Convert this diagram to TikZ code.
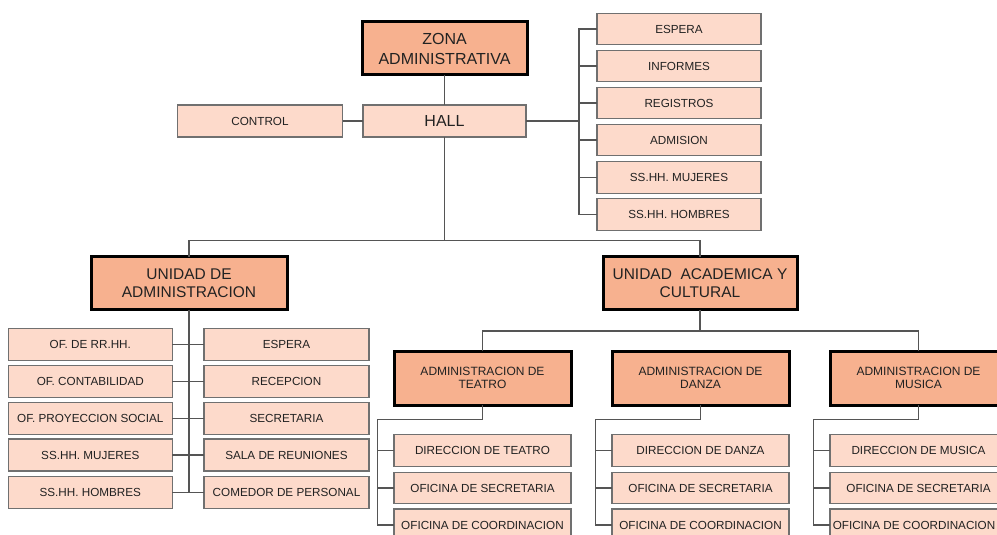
\documentclass[tikz,border=0pt]{standalone}
\usepackage{fontspec}
\setmainfont{Liberation Sans}
\definecolor{darkfill}{HTML}{F7B18F}
\definecolor{lightfill}{HTML}{FDDACB}
\definecolor{lightborder}{HTML}{707070}
\definecolor{connc}{HTML}{555555}
\definecolor{textc}{HTML}{222222}
\tikzset{
  mainbox/.style={draw=black, line width=3pt, fill=darkfill, inner sep=0pt, outer sep=0pt, align=center, text=textc},
  bigtext/.style={font=\fontsize{16}{20}\selectfont},
  unittext/.style={font=\fontsize{15.5}{18.5}\selectfont},
  subtext/.style={font=\fontsize{12}{13.5}\selectfont},
  leafbox/.style={draw=lightborder, line width=1.3pt, fill=lightfill, inner sep=0pt, outer sep=0pt, align=center, text=textc, font=\fontsize{11.7}{13}\selectfont},
  conn/.style={draw=connc, line width=1.3pt},
}
\begin{document}
\begin{tikzpicture}[x=1pt,y=-1pt]
\useasboundingbox (0,0) rectangle (997,535);
\clip (0,0) rectangle (997,535);
% top level
\node[mainbox, bigtext, minimum width=165pt, minimum height=53pt] (zona) at (444.5,48.5) {ZONA\\ADMINISTRATIVA};
\node[leafbox, font=\fontsize{16}{18}\selectfont, minimum width=163pt, minimum height=32pt] (hall) at (444.5,121) {HALL};
\node[leafbox, minimum width=165pt, minimum height=32pt] (control) at (260,121) {CONTROL};
% right column
\node[leafbox, minimum width=164pt, minimum height=31.5pt] (e1) at (679,29) {ESPERA};
\node[leafbox, minimum width=164pt, minimum height=31.5pt] (e2) at (679,66) {INFORMES};
\node[leafbox, minimum width=164pt, minimum height=31.5pt] (e3) at (679,103) {REGISTROS};
\node[leafbox, minimum width=164pt, minimum height=31.5pt] (e4) at (679,140) {ADMISION};
\node[leafbox, minimum width=164pt, minimum height=31.5pt] (e5) at (679,177.5) {SS.HH. MUJERES};
\node[leafbox, minimum width=164pt, minimum height=31.5pt] (e6) at (679,214.5) {SS.HH. HOMBRES};
\coordinate (rbus) at (578.5,121);
\coordinate (tb) at (444.5,240.5);
% units
\node[mainbox, unittext, minimum width=196pt, minimum height=53pt] (ua) at (189,283) {UNIDAD DE\\ADMINISTRACION};
\node[mainbox, unittext, minimum width=194pt, minimum height=53pt] (uc) at (700,283) {UNIDAD\ \ ACADEMICA Y\\CULTURAL};
% unidad de administracion children
\node[leafbox, minimum width=164pt, minimum height=32pt] (l1) at (90.3,344.7) {OF. DE RR.HH.};
\node[leafbox, minimum width=164pt, minimum height=32pt] (l2) at (90.3,381.5) {OF. CONTABILIDAD};
\node[leafbox, minimum width=164pt, minimum height=32pt] (l3) at (90.3,418.3) {OF. PROYECCION SOCIAL};
\node[leafbox, minimum width=164pt, minimum height=32pt] (l4) at (90.3,455) {SS.HH. MUJERES};
\node[leafbox, minimum width=164pt, minimum height=32pt] (l5) at (90.3,492.5) {SS.HH. HOMBRES};
\node[leafbox, minimum width=165pt, minimum height=32pt] (r1) at (286.5,344.7) {ESPERA};
\node[leafbox, minimum width=165pt, minimum height=32pt] (r2) at (286.5,381.5) {RECEPCION};
\node[leafbox, minimum width=165pt, minimum height=32pt] (r3) at (286.5,418.3) {SECRETARIA};
\node[leafbox, minimum width=165pt, minimum height=32pt] (r4) at (286.5,455) {SALA DE REUNIONES};
\node[leafbox, minimum width=165pt, minimum height=32pt] (r5) at (286.5,492.5) {COMEDOR DE PERSONAL};
% sub administrations
\coordinate (ab) at (700,331);
\node[mainbox, subtext, minimum width=177pt, minimum height=54pt] (at) at (482.5,378) {ADMINISTRACION DE\\TEATRO};
\node[mainbox, subtext, minimum width=177pt, minimum height=54pt] (ad) at (700.5,378) {ADMINISTRACION DE\\DANZA};
\node[mainbox, subtext, minimum width=177pt, minimum height=54pt] (am) at (918.5,378) {ADMINISTRACION DE\\MUSICA};
% teatro children
\node[leafbox, minimum width=177pt, minimum height=32pt] (t1) at (482.5,450.5) {DIRECCION DE TEATRO};
\node[leafbox, minimum width=177pt, minimum height=31pt] (t2) at (482.5,488) {OFICINA DE SECRETARIA};
\node[leafbox, minimum width=177pt, minimum height=32pt] (t3) at (482.5,525) {OFICINA DE COORDINACION};
% danza children
\node[leafbox, minimum width=177pt, minimum height=32pt] (d1) at (700.5,450.5) {DIRECCION DE DANZA};
\node[leafbox, minimum width=177pt, minimum height=31pt] (d2) at (700.5,488) {OFICINA DE SECRETARIA};
\node[leafbox, minimum width=177pt, minimum height=32pt] (d3) at (700.5,525) {OFICINA DE COORDINACION};
% musica children
\node[leafbox, minimum width=177pt, minimum height=32pt] (m1) at (918.5,450.5) {DIRECCION DE MUSICA};
\node[leafbox, minimum width=177pt, minimum height=31pt] (m2) at (918.5,488) {OFICINA DE SECRETARIA};
\node[leafbox, minimum width=177pt, minimum height=32pt] (m3) at (918.5,525) {\hspace*{-9pt}OFICINA DE COORDINACION};

% connectors
\draw[conn] (zona) -- (hall);
\draw[conn] (control) -- (hall);
\draw[conn] (hall.east) -- (rbus);
\draw[conn] (e1.west) -- ++(-18,0) |- (e6.west);
\foreach \n in {e2,e3,e4,e5} \draw[conn] (\n.west) -- ++(-18,0);
\draw[conn] (hall.south) -- (tb);
\draw[conn] (ua.north) |- (tb) -| (uc.north);
\draw[conn] (ua.south) -- (ua.south |- l5.east);
\foreach \i in {1,...,5} \draw[conn] (l\i.east) -- (r\i.west);
\draw[conn] (uc.south) -- (ab);
\draw[conn] (at.north) |- (ab) -| (am.north);
\foreach \a/\c in {at/t,ad/d,am/m} {
  \draw[conn] (\a.south) -- ++(0,14.3) -| ([xshift=-16.7pt]\c3.west) -- (\c3.west);
  \draw[conn] (\c1.west) -- ++(-16.7,0);
  \draw[conn] (\c2.west) -- ++(-16.7,0);
}
\end{tikzpicture}
\end{document}
